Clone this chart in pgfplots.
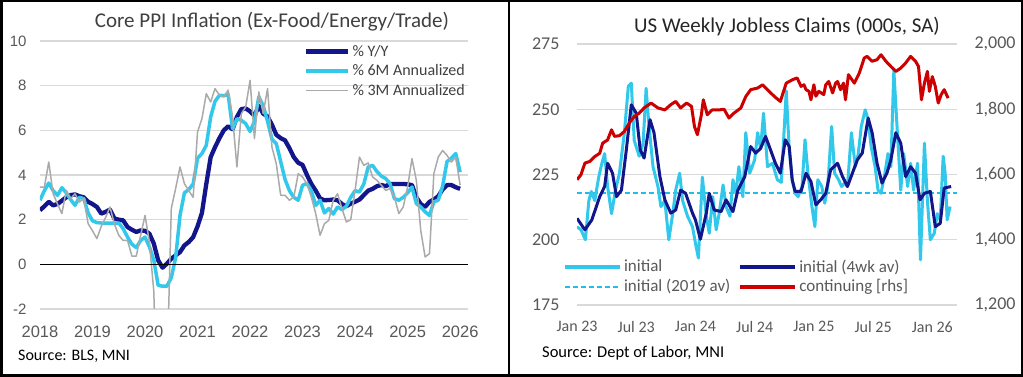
\documentclass[border=0pt]{standalone}
\usepackage{fontspec}
\setmainfont{Carlito}
\newfontfamily\arial{Liberation Sans}
\usepackage{pgfplots}
\pgfplotsset{compat=1.18}
\definecolor{navyc}{RGB}{18,22,138}
\definecolor{cyanc}{RGB}{50,200,235}
\definecolor{dashc}{RGB}{30,190,230}
\definecolor{grayc}{RGB}{170,170,170}
\definecolor{redc}{RGB}{204,0,0}
\definecolor{gridc}{RGB}{217,217,217}
\definecolor{tickc}{RGB}{89,89,89}
\definecolor{titlec}{RGB}{64,64,64}
\begin{document}
\begin{tikzpicture}
\path[use as bounding box] (0pt,0pt) rectangle (1023pt,377pt);
\fill[white] (0pt,0pt) rectangle (1023pt,377pt);

% ---------------- LEFT CHART ----------------
\begin{axis}[
  at={(40pt,68pt)}, anchor=south west, scale only axis,
  width=428pt, height=268pt,
  xmin=0, xmax=97.8, ymin=-2, ymax=10,
  axis line style={draw=none}, major tick length=0pt,
  ytick={-2,0,2,4,6,8,10}, yticklabels={-2,0,2,4,6,8,10},
  ymajorgrids, grid style={draw=gridc, line width=1.3pt},
  xtick={0,12,24,36,48,60,72,84,96},
  xticklabels={2018,2019,2020,2021,2022,2023,2024,2025,2026},
  yticklabel style={font=\arial\fontsize{15}{15}\selectfont, text=tickc, anchor=east, xshift=-10pt},
  xticklabel style={font=\arial\fontsize{16.5}{16.5}\selectfont, text=tickc, anchor=north, yshift=-13pt},
  legend style={at={(0.61,1.0)}, anchor=north west, draw=none, fill=none,
    font=\fontsize{16}{16}\selectfont, text=titlec, row sep=3pt,
    nodes={inner sep=2pt}},
  legend cell align=left,
  legend image code/.code={\draw[#1] (0pt,0pt) -- (42pt,0pt);},
]
\addplot[navyc, line width=4.3pt, line join=round] coordinates {
(0,2.42)(1,2.6)(2,2.8)(3,2.64)(4,2.7)(5,2.85)(6,3.0)(7,3.1)(8,3.13)(9,3.05)(10,3.0)(11,2.8)(12,2.7)(13,2.57)(14,2.27)(15,2.35)(16,2.45)(17,2.05)(18,2.0)(19,1.97)(20,1.67)(21,1.55)(22,1.45)(23,1.52)(24,1.5)(25,1.37)(26,0.93)(27,0.18)(28,-0.15)(29,0.03)(30,0.25)(31,0.4)(32,0.55)(33,0.85)(34,1.0)(35,1.22)(36,1.7)(37,2.3)(38,3.6)(39,4.8)(40,5.25)(41,5.65)(42,6.0)(43,6.18)(44,6.05)(45,6.6)(46,6.95)(47,6.98)(48,6.85)(49,6.65)(50,7.1)(51,6.75)(52,6.62)(53,6.25)(54,5.8)(55,5.65)(56,5.55)(57,5.2)(58,4.8)(59,4.55)(60,4.45)(61,4.0)(62,3.6)(63,3.3)(64,2.95)(65,2.87)(66,2.88)(67,2.9)(68,2.87)(69,2.7)(70,2.6)(71,2.72)(72,2.8)(73,2.9)(74,3.1)(75,3.3)(76,3.38)(77,3.5)(78,3.55)(79,3.5)(80,3.6)(81,3.6)(82,3.6)(83,3.6)(84,3.58)(85,3.55)(86,3.0)(87,2.7)(88,2.57)(89,2.8)(90,2.9)(91,3.05)(92,3.35)(93,3.55)(94,3.55)(95,3.45)(96,3.38)};
\addlegendentry{\% Y/Y}
\addplot[cyanc, line width=3.5pt, line join=round] coordinates {
(0,2.87)(1,3.3)(2,3.64)(3,3.3)(4,3.09)(5,3.43)(6,3.2)(7,2.9)(8,2.64)(9,3.0)(10,2.94)(11,2.3)(12,1.95)(13,1.87)(14,1.85)(15,1.85)(16,1.85)(17,1.85)(18,1.85)(19,1.6)(20,1.22)(21,0.9)(22,0.75)(23,1.07)(24,1.22)(25,0.78)(26,0.2)(27,-0.94)(28,-0.98)(29,-0.98)(30,-0.6)(31,0.3)(32,2.2)(33,3.2)(34,3.35)(35,3.6)(36,4.75)(37,4.96)(38,5.33)(39,6.6)(40,7.3)(41,7.57)(42,7.55)(43,7.6)(44,6.07)(45,6.52)(46,6.45)(47,6.3)(48,5.95)(49,6.4)(50,7.5)(51,7.1)(52,6.4)(53,5.6)(54,5.4)(55,4.6)(56,3.8)(57,3.3)(58,3.0)(59,2.87)(60,3.54)(61,3.62)(62,3.3)(63,2.64)(64,2.87)(65,2.3)(66,2.5)(67,2.25)(68,2.57)(69,2.45)(70,2.6)(71,3.0)(72,3.3)(73,3.24)(74,3.6)(75,4.36)(76,4.43)(77,4.15)(78,3.95)(79,3.84)(80,3.6)(81,2.94)(82,2.87)(83,3.0)(84,3.2)(85,3.46)(86,2.72)(87,2.57)(88,2.35)(89,2.19)(90,2.8)(91,2.87)(92,3.5)(93,4.6)(94,4.75)(95,4.96)(96,4.13)};
\addlegendentry{\% 6M Annualized}
\addplot[grayc, line width=1.5pt, line join=round] coordinates {
(0,3.46)(1,3.46)(2,4.58)(3,3.16)(4,2.7)(5,2.27)(6,3.31)(7,2.94)(8,3.16)(9,2.79)(10,2.94)(11,1.82)(12,1.5)(13,1.15)(14,1.7)(15,2.1)(16,2.57)(17,1.8)(18,1.3)(19,1.07)(20,1.07)(21,0.37)(22,0.37)(23,1.3)(24,2.19)(25,1.0)(26,-1.2)(27,-8)(28,-8)(29,-5)(30,2.5)(31,3.4)(32,4.36)(33,3.61)(34,3.3)(35,3.0)(36,5.93)(37,6.52)(38,7.64)(39,7.27)(40,7.87)(41,7.57)(42,7.5)(43,7.8)(44,6.6)(45,4.36)(46,6.75)(47,7.04)(48,8.24)(49,5.63)(50,7.72)(51,6.75)(52,7.87)(53,5.25)(54,4.5)(55,3.09)(56,3.09)(57,2.87)(58,3.01)(59,4.06)(60,3.91)(61,3.6)(62,3.01)(63,2.27)(64,1.3)(65,1.82)(66,1.97)(67,2.87)(68,3.16)(69,2.49)(70,1.9)(71,2.0)(72,3.31)(73,4.8)(74,4.43)(75,4.54)(76,3.91)(77,3.76)(78,3.54)(79,3.31)(80,3.39)(81,3.0)(82,2.27)(83,2.57)(84,3.46)(85,4.73)(86,3.76)(87,1.52)(88,0.33)(89,0.48)(90,4.06)(91,4.8)(92,5.1)(93,4.88)(94,4.58)(95,4.8)(96,3.54)};
\addlegendentry{\% 3M Annualized}
\addplot[black, line width=1.6pt, forget plot] coordinates {(0,0)(97.8,0)};
\end{axis}

% ---------------- RIGHT CHART ----------------
\begin{axis}[
  at={(577pt,72pt)}, anchor=south west, scale only axis,
  width=380pt, height=261pt,
  xmin=0, xmax=38.5, ymin=175, ymax=275,
  axis line style={draw=none}, major tick length=0pt,
  ytick={175,200,225,250,275}, yticklabels={175,200,225,250,275},
  ymajorgrids, grid style={draw=gridc, line width=1.3pt},
  xtick={0,6,12,18,24,30,36},
  xticklabels={Jan 23,Jul 23,Jan 24,Jul 24,Jan 25,Jul 25,Jan 26},
  yticklabel style={font=\fontsize{18}{18}\selectfont, text=tickc, anchor=east, xshift=-14pt},
  xticklabel style={font=\fontsize{16}{16}\selectfont, text=tickc, anchor=north, yshift=-13pt},
]
\addplot[dashc, line width=2pt, dash pattern=on 5pt off 3pt] coordinates {(0,217.8)(38.5,217.8)};
\addplot[cyanc, line width=3pt, line join=round] coordinates {
(0,205)(0.4,203.8)(0.85,200)(1.2,215)(1.45,218.5)(1.8,215)(2.2,224)(2.5,229)(2.8,233)(3.1,220.4)(3.5,210)(3.9,219)(4.3,225.5)(4.8,241)(5.2,258.8)(5.5,260)(5.8,238)(6.3,232)(6.7,237)(7.0,258)(7.3,243.4)(7.7,228)(8.2,220.4)(8.5,212.7)(8.9,215)(9.3,200)(9.7,210)(10.0,219)(10.4,225.5)(10.7,215)(11.2,209)(11.7,205)(12.0,198.7)(12.3,193)(12.7,224)(13.1,209)(13.4,202.5)(13.75,216.5)(14.1,203.8)(14.4,210)(14.8,221)(15.1,212.7)(15.5,209)(15.8,223)(16.1,217.8)(16.4,228)(16.8,216.5)(17.1,241)(17.5,225.5)(18.0,230.6)(18.3,241)(18.6,235)(18.9,248.5)(19.3,228)(19.8,229.3)(20.3,223)(20.7,222)(21.2,257)(21.5,234.6)(21.8,223)(22.1,217.8)(22.4,216.5)(22.8,220.4)(23.1,238.3)(23.4,225.5)(23.8,212.7)(24.1,205)(24.4,223)(24.8,220.4)(25.1,214)(25.4,220.4)(25.8,243.4)(26.1,225.5)(26.5,223)(26.8,220.4)(27.1,221.7)(27.4,220.4)(27.8,241)(28.2,228)(28.5,233)(28.8,243.4)(29.2,249.8)(29.5,246)(29.8,235.7)(30.2,228)(30.5,219)(30.8,217.8)(31.2,225.5)(31.5,233)(31.8,228)(32.1,265)(32.5,238.3)(32.8,219)(33.1,233)(33.5,220.4)(33.8,229.3)(34.1,219)(34.5,229.3)(34.8,192.3)(35.2,237)(35.5,215)(35.8,200)(36.2,202.5)(36.5,210)(36.8,207.6)(37.1,232)(37.3,225.5)(37.5,207.6)(37.8,212.7)};
\addplot[navyc, line width=3pt, line join=round] coordinates {
(0,208.2)(0.4,206)(0.8,203.8)(1.5,207.6)(2.3,216.5)(2.8,220.4)(3.1,229.3)(3.6,225.5)(4.0,216.5)(4.5,219)(5.0,234.5)(5.5,251.7)(6.0,248.5)(6.4,234.5)(6.8,231.3)(7.4,246)(7.8,241)(8.4,224.2)(8.9,215.3)(9.5,210.2)(10.0,211.4)(10.5,219)(11.0,217.8)(11.7,210.2)(12.0,207.6)(12.5,200.2)(13.1,210.2)(13.4,217.8)(13.9,211.4)(14.6,210.8)(15.1,215.3)(15.8,210.8)(16.3,219)(17.0,224.2)(17.6,235.7)(18.1,233.2)(18.6,235)(19.1,239.6)(19.6,234.5)(20.1,229.3)(20.6,225.5)(21.1,238.3)(21.5,235.7)(21.8,223)(22.1,218.5)(22.7,218.5)(23.2,225.5)(23.7,222.3)(24.2,213.4)(24.7,215.3)(25.2,217.8)(25.7,226.8)(26.4,229.3)(26.9,224.2)(27.4,220.4)(27.9,225.5)(28.4,230.6)(28.9,233.2)(29.5,246.6)(29.9,241)(30.4,229.3)(30.9,221.7)(31.4,225.5)(31.8,230.6)(32.3,241)(32.8,237)(33.3,224.2)(33.8,228)(34.3,225.5)(34.75,215.3)(35.2,217.8)(35.8,218.5)(36.3,205)(36.8,206.3)(37.2,219.8)(37.9,220.4)};
\end{axis}

\begin{axis}[
  at={(577pt,72pt)}, anchor=south west, scale only axis,
  width=380pt, height=261pt,
  xmin=0, xmax=38.5, ymin=1200, ymax=2000,
  axis line style={draw=none}, major tick length=0pt,
  hide x axis,
  ytick={1200,1400,1600,1800,2000},
  yticklabels={{1,200},{1,400},{1,600},{1,800},{2,000}},
  yticklabel pos=right,
  yticklabel style={font=\fontsize{18}{18}\selectfont, text=tickc, anchor=west, xshift=14pt},
  legend columns=2,
  legend style={at={(-0.045,0.19)}, anchor=north west, draw=none, fill=none,
    font=\fontsize{17}{17}\selectfont, text=tickc, row sep=2pt,
    nodes={inner sep=2pt},
    /tikz/every even column/.append style={column sep=6pt}},
  legend cell align=left,
  legend image code/.code={\draw[#1] (0pt,0pt) -- (55pt,0pt);},
]
\addlegendimage{cyanc, line width=4pt}
\addlegendentry{initial}
\addlegendimage{navyc, line width=4pt}
\addlegendentry{initial (4wk av)}
\addlegendimage{dashc, line width=2pt, dash pattern=on 5pt off 3pt}
\addlegendentry{initial (2019 av)}
\addlegendimage{redc, line width=4pt}
\addlegendentry{continuing [rhs]}
\addplot[redc, line width=3pt, line join=round, forget plot] coordinates {
(0,1584)(0.4,1599)(0.8,1635)(1.3,1640)(1.8,1655)(2.3,1665)(2.6,1696)(3.1,1706)(3.5,1737)(3.8,1717)(4.3,1719)(4.8,1732)(5.3,1758)(5.8,1778)(6.3,1788)(6.8,1804)(7.5,1819)(8.2,1804)(8.9,1798)(9.5,1814)(10.0,1824)(10.5,1804)(11.1,1819)(11.6,1809)(11.9,1747)(12.2,1722)(12.6,1783)(12.8,1829)(13.2,1783)(13.7,1798)(14.4,1798)(14.9,1800)(15.4,1773)(15.9,1788)(16.6,1804)(17.1,1839)(17.6,1860)(18.3,1865)(18.8,1875)(19.3,1860)(20.0,1839)(20.6,1824)(21.2,1880)(21.8,1890)(22.3,1896)(22.7,1870)(23.0,1875)(23.2,1860)(23.5,1855)(23.7,1829)(24.0,1875)(24.2,1840)(24.5,1855)(25.0,1845)(25.2,1875)(25.5,1885)(25.9,1850)(26.2,1880)(26.4,1885)(26.7,1860)(27.0,1880)(27.2,1829)(27.5,1906)(28.1,1880)(28.6,1911)(29.1,1957)(29.4,1962)(29.9,1947)(30.4,1952)(30.8,1967)(31.3,1947)(31.8,1931)(32.3,1916)(32.8,1926)(33.3,1942)(33.8,1962)(34.3,1947)(34.6,1931)(34.9,1829)(35.2,1880)(35.5,1916)(35.7,1855)(36.0,1900)(36.3,1870)(36.6,1819)(36.9,1845)(37.2,1860)(37.6,1834)};
\end{axis}

% titles and sources
\node[font=\fontsize{21}{21}\selectfont, text=titlec] at (272pt,355pt) {Core PPI Inflation (Ex-Food/Energy/Trade)};
\node[font=\fontsize{21}{21}\selectfont, text=black!85] at (787pt,350pt) {US Weekly Jobless Claims (000s, SA)};
\node[font=\fontsize{16}{16}\selectfont, anchor=west, inner sep=0pt] at (18pt,21pt) {Source: BLS, MNI};
\node[font=\fontsize{16.5}{16.5}\selectfont, anchor=west, inner sep=0pt] at (542pt,24pt) {Source: Dept of Labor, MNI};

% frames
\draw[black, line width=2.5pt] (1.25pt,1.25pt) rectangle (1021.75pt,375.75pt);
\draw[black, line width=2.5pt] (509pt,0pt) -- (509pt,377pt);
\end{tikzpicture}
\end{document}
